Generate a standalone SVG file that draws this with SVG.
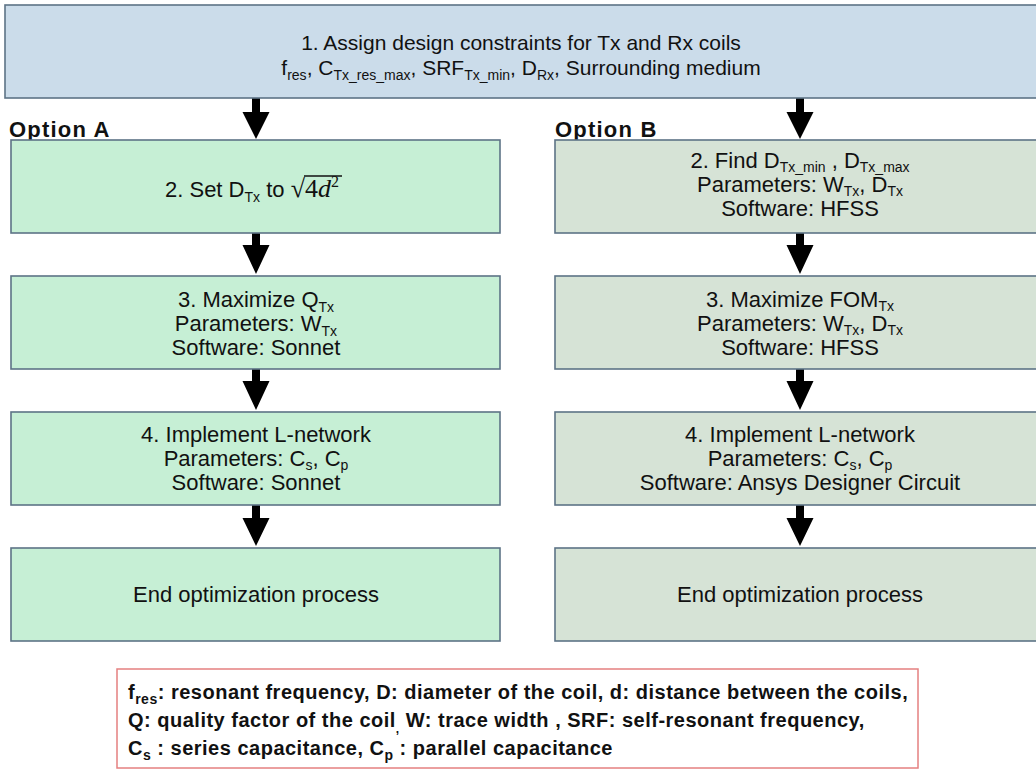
<svg xmlns="http://www.w3.org/2000/svg" width="1036" height="771" viewBox="0 0 1036 771">
<style>
.t{font-family:"Liberation Sans",Arial,sans-serif;font-size:22px;fill:#111;text-anchor:middle}
.s{font-size:14px}
.top{fill:#cbdcea;stroke:#5d7386;stroke-width:1.6}
.ga{fill:#c6efd5;stroke:#5d7386;stroke-width:1.6}
.gb{fill:#d6e3d6;stroke:#5d7386;stroke-width:1.6}
.lbl{font-family:"Liberation Sans",Arial,sans-serif;font-weight:bold;font-size:22px;letter-spacing:1.2px;fill:#111}
.lg{font-family:"Liberation Sans",Arial,sans-serif;font-weight:bold;font-size:20px;letter-spacing:0.5px;fill:#111}
.m{font-family:"Liberation Serif","DejaVu Serif",serif;font-size:26px}
.arr{fill:#000}
</style>
<rect width="1036" height="771" fill="#fff"/>

<g id="connectors">
<path class="arr" d="M252,98 H260 V112 H269.5 L256,139 L242.5,112 H252 Z"/>
<path class="arr" d="M796,98 H804 V112 H813.5 L800,139 L786.5,112 H796 Z"/>
<path class="arr" d="M252,233 H260 V245 H269.5 L256,274 L242.5,245 H252 Z"/>
<path class="arr" d="M252,369 H260 V381 H269.5 L256,410 L242.5,381 H252 Z"/>
<path class="arr" d="M252,505 H260 V518 H269.5 L256,546 L242.5,518 H252 Z"/>
<path class="arr" d="M796,233 H804 V245 H813.5 L800,274 L786.5,245 H796 Z"/>
<path class="arr" d="M796,369 H804 V381 H813.5 L800,410 L786.5,381 H796 Z"/>
<path class="arr" d="M796,505 H804 V518 H813.5 L800,546 L786.5,518 H796 Z"/>
</g>

<g id="n1">
<rect class="top" x="5" y="5" width="1040" height="93"/>
<text class="t" x="521" y="50" style="font-size:21px">1. Assign design constraints for Tx and Rx coils</text>
<text class="t" x="521" y="75" style="font-size:21px">f<tspan class="s" dy="5">res</tspan><tspan dy="-5">, C</tspan><tspan class="s" dy="5">Tx_res_max</tspan><tspan dy="-5">, SRF</tspan><tspan class="s" dy="5">Tx_min</tspan><tspan dy="-5">, D</tspan><tspan class="s" dy="5">Rx</tspan><tspan dy="-5">, Surrounding medium</tspan></text>
</g>

<text id="optA" class="lbl" x="9" y="137">Option A</text>
<text id="optB" class="lbl" x="555" y="137">Option B</text>

<g id="a2">
<rect class="ga" x="11" y="140" width="489" height="93"/>
<text class="t" x="165" y="197" style="text-anchor:start">2. Set D<tspan class="s" dy="5">Tx</tspan><tspan dy="-5"> to </tspan><tspan class="m">√</tspan><tspan class="m">4</tspan><tspan class="m" font-style="italic">d</tspan><tspan class="m" style="font-size:16px" dy="-10">2</tspan></text>
<line x1="304" y1="176" x2="342" y2="176" stroke="#111" stroke-width="1.3"/>
</g>

<g id="a3">
<rect class="ga" x="11" y="276" width="489" height="93"/>
<text class="t" x="256" y="307">3. Maximize Q<tspan class="s" dy="5">Tx</tspan></text>
<text class="t" x="256" y="331">Parameters: W<tspan class="s" dy="5">Tx</tspan></text>
<text class="t" x="256" y="355">Software: Sonnet</text>
</g>

<g id="a4">
<rect class="ga" x="11" y="412" width="489" height="93"/>
<text class="t" x="256" y="442">4. Implement L-network</text>
<text class="t" x="256" y="466">Parameters: C<tspan class="s" dy="4">s</tspan><tspan dy="-4">, C</tspan><tspan class="s" dy="4">p</tspan></text>
<text class="t" x="256" y="490">Software: Sonnet</text>
</g>

<g id="a5">
<rect class="ga" x="11" y="548" width="489" height="93"/>
<text class="t" x="256" y="602">End optimization process</text>
</g>

<g id="b2">
<rect class="gb" x="555" y="140" width="490" height="93"/>
<text class="t" x="800" y="168">2. Find D<tspan class="s" dy="4">Tx_min</tspan><tspan dy="-4"> , D</tspan><tspan class="s" dy="4">Tx_max</tspan></text>
<text class="t" x="800" y="192">Parameters: W<tspan class="s" dy="4">Tx</tspan><tspan dy="-4">, D</tspan><tspan class="s" dy="4">Tx</tspan></text>
<text class="t" x="800" y="216">Software: HFSS</text>
</g>

<g id="b3">
<rect class="gb" x="555" y="276" width="490" height="93"/>
<text class="t" x="800" y="307">3. Maximize FOM<tspan class="s" dy="4">Tx</tspan></text>
<text class="t" x="800" y="331">Parameters: W<tspan class="s" dy="4">Tx</tspan><tspan dy="-4">, D</tspan><tspan class="s" dy="4">Tx</tspan></text>
<text class="t" x="800" y="355">Software: HFSS</text>
</g>

<g id="b4">
<rect class="gb" x="555" y="412" width="490" height="93"/>
<text class="t" x="800" y="442">4. Implement L-network</text>
<text class="t" x="800" y="466">Parameters: C<tspan class="s" dy="4">s</tspan><tspan dy="-4">, C</tspan><tspan class="s" dy="4">p</tspan></text>
<text class="t" x="800" y="490">Software: Ansys Designer Circuit</text>
</g>

<g id="b5">
<rect class="gb" x="555" y="548" width="490" height="93"/>
<text class="t" x="800" y="602">End optimization process</text>
</g>

<g id="legend">
<rect x="117" y="669" width="801" height="99" fill="#fff" stroke="#e58080" stroke-width="1.5"/>
<text class="lg" x="128" y="699">f<tspan style="font-size:14px" dy="5">res</tspan><tspan dy="-5">: resonant frequency, D: diameter of the coil, d: distance between the coils,</tspan></text>
<text class="lg" x="128" y="727">Q: quality factor of the coil<tspan style="font-size:12px" dy="6">,</tspan><tspan dy="-6"> W: trace width , SRF: self-resonant frequency,</tspan></text>
<text class="lg" x="128" y="755">C<tspan style="font-size:14px" dy="5">s</tspan><tspan dy="-5"> : series capacitance, C</tspan><tspan style="font-size:14px" dy="5">p</tspan><tspan dy="-5"> : parallel capacitance</tspan></text>
</g>
</svg>
